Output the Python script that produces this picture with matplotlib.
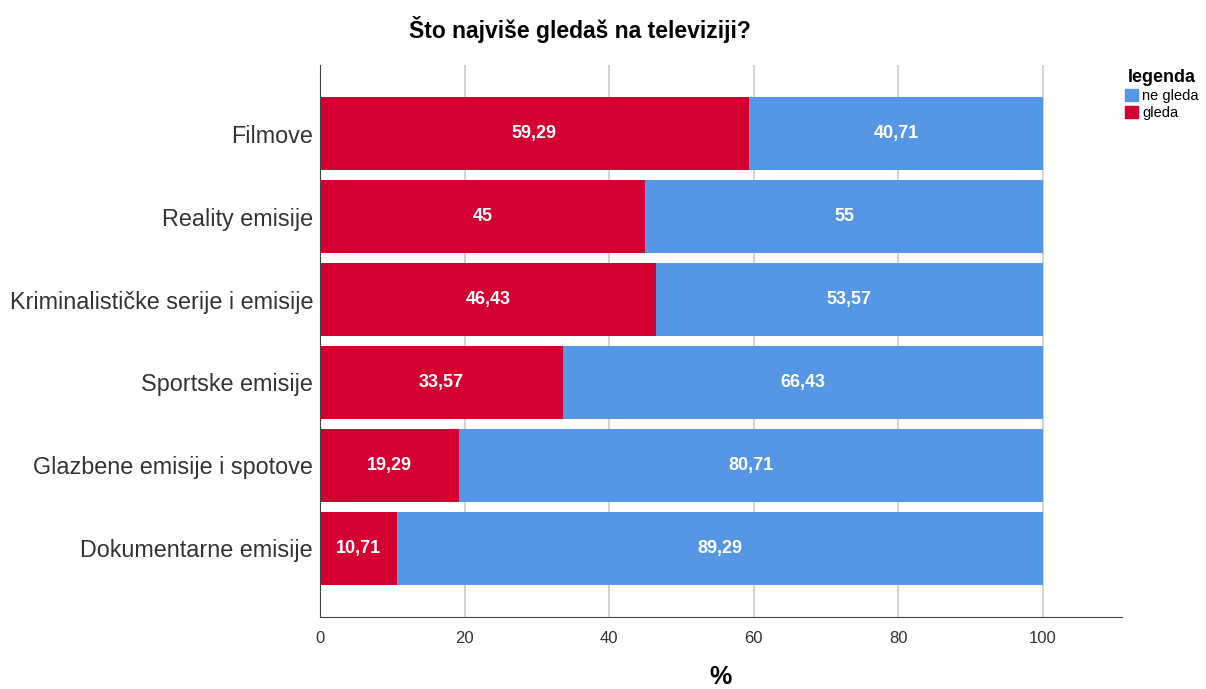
import matplotlib.pyplot as plt
from matplotlib.patches import Patch

categories = ["Filmove", "Reality emisije", "Kriminalističke serije i emisije",
              "Sportske emisije", "Glazbene emisije i spotove", "Dokumentarne emisije"]
gleda = [59.29, 45, 46.43, 33.57, 19.29, 10.71]
ne_gleda = [40.71, 55, 53.57, 66.43, 80.71, 89.29]
gleda_labels = ["59,29", "45", "46,43", "33,57", "19,29", "10,71"]
ne_gleda_labels = ["40,71", "55", "53,57", "66,43", "80,71", "89,29"]
x_ticks = [0, 20, 40, 60, 80, 100]

red = "#D50032"
blue = "#5597E4"

plt.rcParams['font.family'] = ['Liberation Sans', 'DejaVu Sans']
narrow = ['Liberation Sans Narrow', 'Liberation Sans', 'DejaVu Sans']

fig = plt.figure(figsize=(12.06, 6.89), dpi=100)
ax = fig.add_axes([0.2653, 0.1045, 0.665, 0.801])

y = list(range(len(categories)))
ax.barh(y, gleda, height=0.88, color=red, zorder=2)
ax.barh(y, ne_gleda, left=gleda, height=0.88, color=blue, zorder=2)

for i in y:
    ax.text(gleda[i] / 2, i, gleda_labels[i], ha='center', va='center',
            color='white', fontweight='bold', fontsize=13, family=narrow, zorder=3)
    ax.text(gleda[i] + ne_gleda[i] / 2, i, ne_gleda_labels[i], ha='center', va='center',
            color='white', fontweight='bold', fontsize=13, family=narrow, zorder=3)

ax.set_ylim(5.83, -0.83)
ax.set_xlim(0, 110.9)
ax.set_xticks(x_ticks)
ax.set_xticklabels([str(t) for t in x_ticks], family=narrow, fontsize=12, color='#333333')
ax.set_yticks(y)
ax.set_yticklabels(categories, fontsize=16.8, color='#333333')
ax.tick_params(axis='x', length=0, pad=10)
ax.tick_params(axis='y', length=0, pad=5)
ax.grid(axis='x', color='#CCCCCC', linewidth=1.2, zorder=0)
for s in ['top', 'right']:
    ax.spines[s].set_visible(False)
ax.spines['left'].set_color('#444444')
ax.spines['bottom'].set_color('#444444')

ax.set_xlabel('%', fontsize=18, fontweight='bold', labelpad=14, family=narrow)
fig.text(0.481, 0.957, 'Što najviše gledaš na televiziji?', fontsize=16.5,
         fontweight='bold', ha='center', va='center')

handles = [Patch(color=blue, label='ne gleda'), Patch(color=red, label='gleda')]
leg = fig.legend(handles=handles, title='legenda', loc='upper left',
                 bbox_to_anchor=(0.924, 0.915), frameon=False, fontsize=10.5,
                 title_fontproperties={'weight': 'bold', 'size': 13},
                 handlelength=0.9, handleheight=0.9, handletextpad=0.3,
                 labelspacing=0.2, borderpad=0.2)

fig.savefig('out.png')
